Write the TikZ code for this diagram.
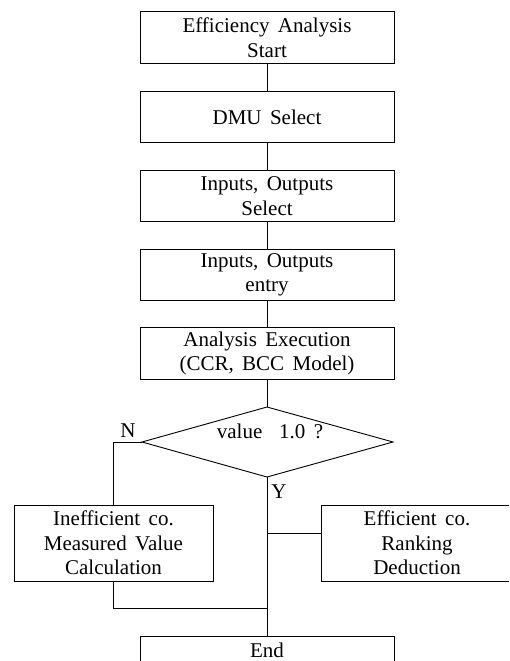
\documentclass[tikz,border=0pt]{standalone}
\usepackage{fontspec}
\setmainfont{Liberation Serif}[WordSpace=1.6]
\begin{document}
\begin{tikzpicture}[x=1pt,y=-1pt,
  line width=0.9pt,
  every node/.style={font=\fontsize{21}{24.5}\selectfont, inner sep=0pt, align=center},
  box/.style={draw, minimum width=254pt, minimum height=51.5pt},
  sidebox/.style={draw, minimum height=76pt},
  lbl/.style={}
]
\useasboundingbox (0,0) rectangle (509,661);
\clip (0,0) rectangle (509,661);
\node[box] (b1) at (267,37.5) {Efficiency Analysis\\Start};
\node[box] (b2) at (267,117) {DMU Select};
\node[box] (b3) at (267,196) {Inputs, Outputs\\Select};
\node[box] (b4) at (267,275) {Inputs, Outputs\\entry};
\node[box] (b5) at (267,353.5) {Analysis Execution\\(CCR, BCC Model)};
\coordinate (dT) at (267,407);
\coordinate (dL) at (142,442);
\coordinate (dR) at (393,442);
\coordinate (dB) at (267,477);
\draw (dT) -- (dR) -- (dB) -- (dL) -- cycle;
\node (dtext) at (270,431) {value \ 1.0 ?};
\node[sidebox, minimum width=199pt] (left) at (113.5,543) {Inefficient co.\\Measured Value\\Calculation};
\node[sidebox, minimum width=192pt] (right) at (417,543) {Efficient co.\\Ranking\\Deduction};
\node[box, minimum height=28pt] (end) at (267,650) {End};
\node[lbl] (N) at (128,431) {N};
\node[lbl] (Y) at (279,492) {Y};
\coordinate (jr) at (267,533);
\coordinate (jl) at (267,608);
\draw (b1.south) -- (b2.north);
\draw (b2.south) -- (b3.north);
\draw (b3.south) -- (b4.north);
\draw (b4.south) -- (b5.north);
\draw (b5.south) -- (dT);
\draw (dL) -| (left.north);
\draw (dB) -- (end.north);
\draw (jr) -- (right.west |- jr);
\draw (left.south) |- (jl);
\end{tikzpicture}
\end{document}
